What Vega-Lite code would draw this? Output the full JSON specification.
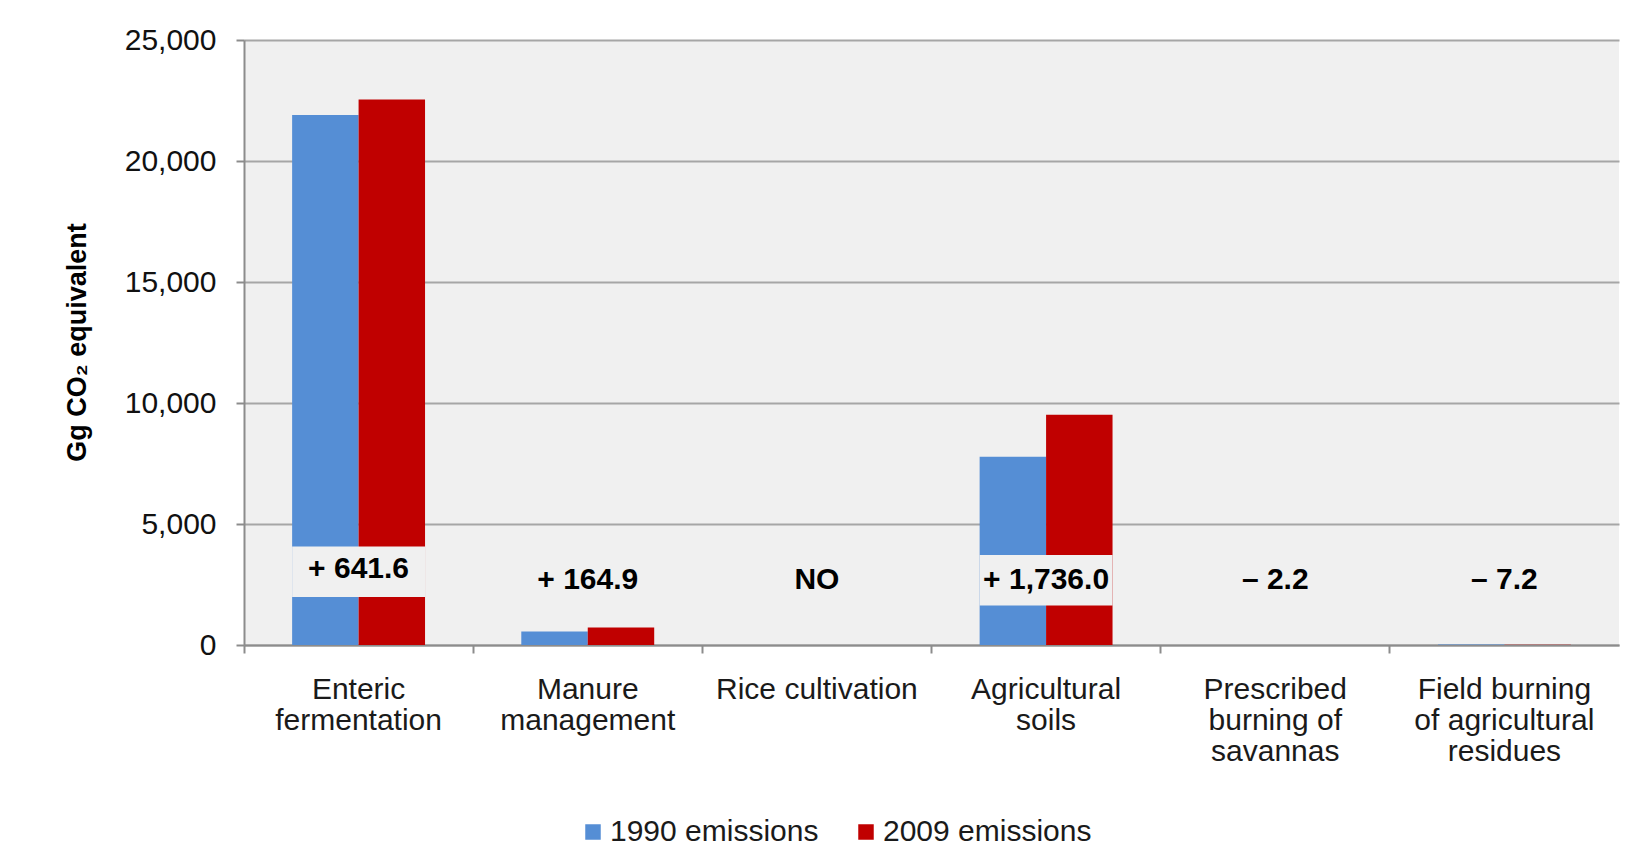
{
  "$schema": "https://vega.github.io/schema/vega-lite/v6.json",
  "autosize": {"type": "none"},
  "width": 1375,
  "height": 605,
  "padding": {"left": 244, "top": 40, "right": 29, "bottom": 220},
  "background": "white",
  "config": {
    "font": "Liberation Sans",
    "view": {"fill": "#f0f0f0", "stroke": null}
  },
  "datasets": {
    "emissions": [
      {"category": "Enteric fermentation", "series": "1990 emissions", "value": 21900},
      {"category": "Enteric fermentation", "series": "2009 emissions", "value": 22541.6},
      {"category": "Manure management", "series": "1990 emissions", "value": 560},
      {"category": "Manure management", "series": "2009 emissions", "value": 724.9},
      {"category": "Rice cultivation", "series": "1990 emissions", "value": null},
      {"category": "Rice cultivation", "series": "2009 emissions", "value": null},
      {"category": "Agricultural soils", "series": "1990 emissions", "value": 7780},
      {"category": "Agricultural soils", "series": "2009 emissions", "value": 9516},
      {"category": "Prescribed burning of savannas", "series": "1990 emissions", "value": 4.5},
      {"category": "Prescribed burning of savannas", "series": "2009 emissions", "value": 2.3},
      {"category": "Field burning of agricultural residues", "series": "1990 emissions", "value": 19.8},
      {"category": "Field burning of agricultural residues", "series": "2009 emissions", "value": 12.6}
    ],
    "notes": [
      {"category": "Enteric fermentation", "label": "+ 641.6", "label_y": 3140, "gap_low": 1983, "gap_high": 4070},
      {"category": "Manure management", "label": "+ 164.9", "label_y": 2686, "gap_low": null, "gap_high": null},
      {"category": "Rice cultivation", "label": "NO", "label_y": 2686, "gap_low": null, "gap_high": null},
      {"category": "Agricultural soils", "label": "+ 1,736.0", "label_y": 2686, "gap_low": 1636, "gap_high": 3719},
      {"category": "Prescribed burning of savannas", "label": "– 2.2", "label_y": 2686, "gap_low": null, "gap_high": null},
      {"category": "Field burning of agricultural residues", "label": "– 7.2", "label_y": 2686, "gap_low": null, "gap_high": null}
    ]
  },
  "layer": [
    {
      "data": {"name": "emissions"},
      "mark": {"type": "bar"},
      "encoding": {
        "x": {
          "field": "category",
          "type": "nominal",
          "sort": null,
          "scale": {
            "domain": ["Enteric fermentation", "Manure management", "Rice cultivation", "Agricultural soils", "Prescribed burning of savannas", "Field burning of agricultural residues"],
            "paddingInner": 0.42,
            "paddingOuter": 0.21
          },
          "axis": {
            "orient": "bottom",
            "title": null,
            "domain": false,
            "ticks": false,
            "labelAngle": 0,
            "labelFontSize": 30,
            "labelColor": "#1a1a1a",
            "labelPadding": 29,
            "labelBaseline": "top",
            "labelLineHeight": 31,
            "labelLimit": 400,
            "labelExpr": "datum.value == 'Enteric fermentation' ? ['Enteric','fermentation'] : datum.value == 'Manure management' ? ['Manure','management'] : datum.value == 'Agricultural soils' ? ['Agricultural','soils'] : datum.value == 'Prescribed burning of savannas' ? ['Prescribed','burning of','savannas'] : datum.value == 'Field burning of agricultural residues' ? ['Field burning','of agricultural','residues'] : datum.label"
          }
        },
        "xOffset": {"field": "series", "type": "nominal", "scale": {"domain": ["1990 emissions", "2009 emissions"]}},
        "y": {
          "field": "value",
          "type": "quantitative",
          "scale": {"domain": [0, 25000], "nice": false},
          "axis": {
            "values": [0, 5000, 10000, 15000, 20000, 25000],
            "format": ",.0f",
            "grid": true,
            "gridColor": "#a6a6a6",
            "gridWidth": 2,
            "domain": true,
            "domainColor": "#8c8c8c",
            "domainWidth": 2,
            "ticks": true,
            "tickSize": 8,
            "tickColor": "#8c8c8c",
            "tickWidth": 2,
            "labelFontSize": 30,
            "labelColor": "#111111",
            "labelPadding": 20,
            "title": "Gg CO₂ equivalent",
            "titleFontSize": 27,
            "titleFontWeight": "bold",
            "titleColor": "#000000",
            "titleAngle": -90,
            "titleX": -167,
            "titleY": 302,
            "titleAlign": "center",
            "titleBaseline": "middle"
          }
        },
        "color": {
          "field": "series",
          "type": "nominal",
          "scale": {"domain": ["1990 emissions", "2009 emissions"], "range": ["#558ed5", "#c00000"]},
          "legend": {
            "orient": "none",
            "legendX": 334,
            "legendY": 777,
            "direction": "horizontal",
            "title": null,
            "symbolType": "square",
            "symbolSize": 240,
            "symbolStrokeWidth": 0,
            "labelFontSize": 30,
            "labelColor": "#1a1a1a",
            "labelLimit": 400,
            "labelOffset": 2,
            "columnPadding": 32
          }
        }
      }
    },
    {
      "data": {"name": "notes"},
      "mark": {"type": "bar", "color": "#f0f0f0", "opacity": 1, "fillOpacity": 1, "strokeWidth": 0},
      "encoding": {
        "x": {
          "field": "category",
          "type": "nominal",
          "sort": null,
          "axis": {
            "orient": "bottom",
            "title": null,
            "labels": false,
            "domain": true,
            "domainColor": "#8c8c8c",
            "domainWidth": 2,
            "ticks": true,
            "tickSize": 8,
            "tickColor": "#8c8c8c",
            "tickWidth": 2,
            "bandPosition": -0.362
          }
        },
        "y": {"field": "gap_low", "type": "quantitative"},
        "y2": {"field": "gap_high"}
      }
    },
    {
      "data": {"name": "notes"},
      "mark": {"type": "text", "fontWeight": "bold", "fontSize": 30, "color": "#000000", "baseline": "middle"},
      "encoding": {
        "x": {"field": "category", "type": "nominal", "sort": null, "axis": null},
        "y": {"field": "label_y", "type": "quantitative"},
        "text": {"field": "label"}
      }
    }
  ],
  "resolve": {"axis": {"x": "independent"}}
}
